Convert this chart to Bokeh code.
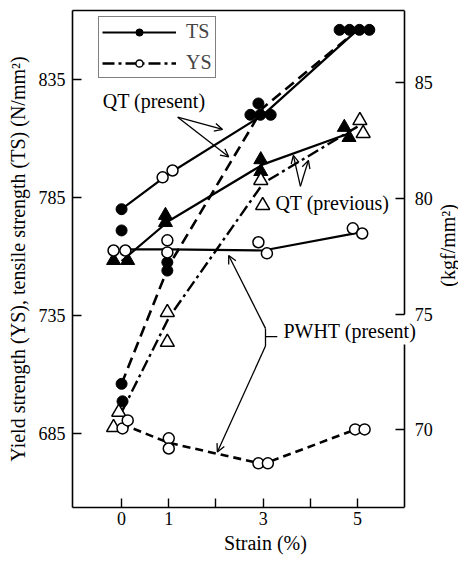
import math
from bokeh.plotting import figure
from bokeh.models import (Range1d, LinearAxis, FixedTicker, Legend, LegendItem,
                          Arrow, OpenHead, Label)
from bokeh.embed import file_html
from bokeh.resources import INLINE

KGF = 9.80665  # N/mm2 per kgf/mm2
FONT = "Liberation Serif"

# ---------------- axes ----------------
strain_ticks = [0, 1, 2, 3, 4, 5]
strain_tick_labels = {2: "", 4: ""}
n_ticks = [685, 735, 785, 835]
kgf_ticks_upper = [75, 80, 85]
kgf_ticks_lower = [70]
kgf_gap = [73.7, 75.0]          # break in the right-hand axis line
x_limits = [-1.04, 7.14]
x_frame_right = 6.0             # where the boxed frame ends
y_limits = [653.6, 864.2]

# ---------------- QT (present) ----------------
qtp_ts_line_x = [0, 1, 3, 5]
qtp_ts_line_y = [780, 795, 820, 856]
qtp_ts_fill_x = [0, 0, 2.73, 2.94, 3.16, 4.62, 4.83]
qtp_ts_fill_y = [780, 771, 820, 820, 820, 856, 856]
qtp_ts_open_x = [0.87, 1.08]
qtp_ts_open_y = [793.5, 796.4]

qtp_ys_line_x = [0, 1, 3, 5]
qtp_ys_line_y = [706, 756, 823, 856]
qtp_ys_fill_x = [0, 0.02, 0.97, 0.97, 2.9, 5.04, 5.25]
qtp_ys_fill_y = [706, 698.6, 757.5, 754, 824.8, 856, 856]

# ---------------- QT (previous) ----------------
qtv_ts_line_x = [0, 1, 3, 4.8]
qtv_ts_line_y = [758, 775, 799, 812]
qtv_ts_x = [-0.17, 0.13, 0.93, 0.93, 2.95, 2.95, 4.72, 4.82]
qtv_ts_y = [758.3, 758.3, 777.4, 774.4, 801, 796, 814.7, 810.4]

qtv_ys_line_x = [0, 1, 3, 5]
qtv_ys_line_y = [694, 734, 791, 815]
qtv_ys_x = [-0.17, -0.06, 0.97, 0.97, 2.95, 2.99, 5.05, 5.12]
qtv_ys_y = [687.5, 694, 736.3, 723.6, 792.2, 781.6, 817.6, 812.1]

# ---------------- PWHT (present) ----------------
pw_ts_line_x = [0, 1, 3, 5]
pw_ts_line_y = [763, 763, 762.5, 770]
pw_ts_x = [-0.17, 0.08, 0.97, 0.97, 2.9, 3.08, 4.9, 5.1]
pw_ts_y = [762.5, 762.5, 766.8, 761.7, 766, 761.3, 771.9, 769.7]

pw_ys_line_x = [0, 1, 3, 5]
pw_ys_line_y = [689, 681, 672, 687]
pw_ys_x = [0.02, 0.13, 1.0, 1.0, 2.9, 3.1, 4.95, 5.15]
pw_ys_y = [687.1, 690.5, 682.9, 678.6, 672.3, 672.3, 686.7, 686.7]

# ---------------- annotations ----------------
ann_texts = ["QT (present)", "QT (previous)", "PWHT (present)"]
ann_x = [-0.40, 3.26, 3.43]
ann_y = [826, 782.5, 728.6]
arrow_x0 = [1.19, 1.19, 3.79, 3.79, 3.05, 3.05]
arrow_y0 = [819, 819, 789.7, 789.7, 729.5, 722.0]
arrow_x1 = [2.14, 2.27, 3.64, 3.96, 2.27, 2.03]
arrow_y1 = [813.8, 802.2, 802.8, 800.7, 760.4, 677.1]
bracket_x0 = [3.05, 3.05]
bracket_y0 = [729.5, 726.0]
bracket_x1 = [3.05, 3.30]
bracket_y1 = [722.0, 726.0]
right_label = "(kgf/mm²)"
right_label_pos = (6.91, 764.7)

p = figure(width=458, height=562, output_backend="svg", toolbar_location=None,
           x_range=Range1d(*x_limits), y_range=Range1d(*y_limits),
           min_border_left=72, min_border_right=0, min_border_top=10,
           min_border_bottom=55, background_fill_color="white",
           border_fill_color="white")
p.outline_line_color = None
p.grid.visible = False

xax = p.below[0]
yax = p.left[0]
xax.ticker = FixedTicker(ticks=strain_ticks)
xax.major_label_overrides = strain_tick_labels
xax.axis_label = "Strain (%)"
xax.major_label_standoff = 4
xax.axis_label_standoff = 4
xax.bounds = (x_limits[0], x_frame_right)
yax.ticker = FixedTicker(ticks=n_ticks)
yax.axis_label = "Yield strength (YS), tensile strength (TS) (N/mm²)"
yax.major_label_standoff = 7
yax.axis_label_standoff = 7

kgf_lo, kgf_hi = y_limits[0] / KGF, y_limits[1] / KGF
p.extra_y_ranges = {"kgf": Range1d(kgf_lo, kgf_hi)}
rax_hi = LinearAxis(y_range_name="kgf", ticker=FixedTicker(ticks=kgf_ticks_upper),
                    fixed_location=x_frame_right, bounds=(kgf_gap[1], kgf_hi))
rax_lo = LinearAxis(y_range_name="kgf", ticker=FixedTicker(ticks=kgf_ticks_lower),
                    fixed_location=x_frame_right, bounds=(kgf_lo, kgf_gap[0]))
p.add_layout(rax_hi, "right")
p.add_layout(rax_lo, "right")
tax = LinearAxis(ticker=FixedTicker(ticks=[]), bounds=(x_limits[0], x_frame_right))
tax.major_label_standoff = 0
tax.axis_label_standoff = 0
p.add_layout(tax, "above")

for ax in [xax, yax, rax_hi, rax_lo, tax]:
    ax.axis_line_color = "black"
    ax.axis_line_width = 1.6
    ax.major_tick_in = 9
    ax.major_tick_out = 0
    ax.minor_tick_in = 0
    ax.minor_tick_out = 0
    ax.major_tick_line_width = 1.4
    ax.major_tick_line_color = "black"
    ax.major_label_text_font = FONT
    ax.major_label_text_font_size = "18px"
    ax.major_label_text_color = "black"
    ax.axis_label_text_font = FONT
    ax.axis_label_text_font_size = "20px"
    ax.axis_label_text_font_style = "normal"
    ax.axis_label_text_color = "black"
for ax in [rax_hi, rax_lo]:
    ax.major_label_standoff = 10

LW = 2.2
# lines
r_qtp_ts = p.line(qtp_ts_line_x, qtp_ts_line_y, line_color="black", line_width=LW)
p.line(qtp_ys_line_x, qtp_ys_line_y, line_color="black", line_width=2.6, line_dash="11 6")
p.line(qtv_ts_line_x, qtv_ts_line_y, line_color="black", line_width=LW)
r_qtv_ys = p.line(qtv_ys_line_x, qtv_ys_line_y, line_color="black", line_width=2.4,
                  line_dash="12 4 3 4")
p.line(pw_ts_line_x, pw_ts_line_y, line_color="black", line_width=LW)
p.line(pw_ys_line_x, pw_ys_line_y, line_color="black", line_width=2.6, line_dash="8 5")

# markers
r_fill = p.scatter(qtp_ts_fill_x, qtp_ts_fill_y, marker="circle", size=11,
                   fill_color="black", line_color="black")
p.scatter(qtp_ys_fill_x, qtp_ys_fill_y, marker="circle", size=11,
          fill_color="black", line_color="black")
p.scatter(qtv_ts_x, qtv_ts_y, marker="triangle", size=14,
          fill_color="black", line_color="black")
p.scatter(qtv_ys_x, qtv_ys_y, marker="triangle", size=14,
          fill_color="white", line_color="black", line_width=1.5)
p.scatter(qtp_ts_open_x, qtp_ts_open_y, marker="circle", size=11,
          fill_color="white", line_color="black", line_width=1.5)
r_open = p.scatter(pw_ts_x, pw_ts_y, marker="circle", size=11,
                   fill_color="white", line_color="black", line_width=1.5)
p.scatter(pw_ys_x, pw_ys_y, marker="circle", size=11,
          fill_color="white", line_color="black", line_width=1.5)

# arrows
for x0, y0, x1, y1 in zip(arrow_x0, arrow_y0, arrow_x1, arrow_y1):
    p.add_layout(Arrow(x_start=x0, y_start=y0, x_end=x1, y_end=y1,
                       line_color="black", line_width=1.3,
                       end=OpenHead(size=8, line_width=1.3, line_color="black")))
p.segment(bracket_x0, bracket_y0, bracket_x1, bracket_y1, line_color="black", line_width=1.3)

for t, x, y in zip(ann_texts, ann_x, ann_y):
    p.add_layout(Label(x=x, y=y, text=t, text_font=FONT, text_font_size="20px",
                       text_baseline="middle", text_align="left", text_color="black"))
p.add_layout(Label(x=right_label_pos[0], y=right_label_pos[1], text=right_label,
                   angle=math.pi / 2, text_font=FONT, text_font_size="20px",
                   text_baseline="middle", text_align="center", text_color="black"))

# legend (uses the styles of real series)
legend = Legend(items=[LegendItem(label="TS", renderers=[r_qtp_ts, r_fill]),
                       LegendItem(label="YS", renderers=[r_qtv_ys, r_open])],
                location=(26, 429), orientation="vertical")
legend.label_text_font = FONT
legend.label_text_font_size = "20px"
legend.glyph_width = 74
legend.glyph_height = 18
legend.label_standoff = 10
legend.padding = 3
legend.spacing = 8
legend.margin = 0
legend.border_line_color = "black"
legend.border_line_width = 1.6
legend.background_fill_alpha = 1.0
p.add_layout(legend)

open("out.html", "w").write(file_html(p, INLINE))
